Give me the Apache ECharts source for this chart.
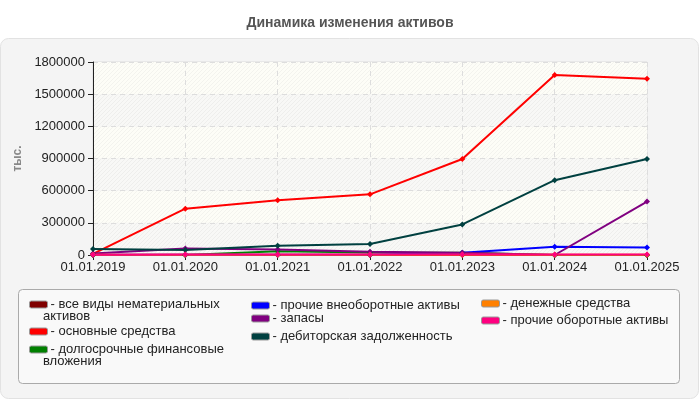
<!DOCTYPE html>
<html lang="ru">
<head>
  <meta charset="UTF-8">
  <title>Динамика изменения активов</title>
  <script src="https://cdn.jsdelivr.net/npm/echarts@6/dist/echarts.min.js"></script>
  <style>
    html, body { margin: 0; padding: 0; background: #fff; }
    #chart { width: 700px; height: 400px; }
  </style>
</head>
<body>
  <div id="chart"></div>
<script>
  // данные
  let dates = ['01.01.2019', '01.01.2020', '01.01.2021', '01.01.2022', '01.01.2023', '01.01.2024', '01.01.2025'];

  let nematerialnye = [1000, 1000, 1000, 1000, 1000, 1000, 1000];
  let osnovnye = [10000, 432000, 510000, 566000, 895000, 1678000, 1644000];
  let dolgosrochnye = [0, 0, 34000, 24000, 20000, 0, 0];
  let prochieVneob = [3000, 3000, 3000, 3000, 20000, 78000, 70000];
  let zapasy = [15000, 60000, 52000, 31000, 22000, 0, 498000];
  let debitorskaya = [56000, 46000, 87000, 103000, 285000, 698000, 895000];
  let denezhnye = [2000, 2000, 2000, 2000, 2000, 2000, 2000];
  let prochieOb = [3000, 4000, 5000, 5000, 4000, 4000, 4000];

  let seriesNames = [
    'все виды нематериальных активов',
    'основные средства',
    'долгосрочные финансовые вложения',
    'прочие внеоборотные активы',
    'запасы',
    'дебиторская задолженность',
    'денежные средства',
    'прочие оборотные активы'
  ];
  let seriesData = [nematerialnye, osnovnye, dolgosrochnye, prochieVneob, zapasy, debitorskaya, denezhnye, prochieOb];
  let colors = ['#800000', '#ff0000', '#008000', '#0000ff', '#800080', '#004040', '#ff8000', '#ff0080'];

  // подписи в легенде (первая строка) и расположение
  let legendText = [
    '- все виды нематериальных',
    '- основные средства',
    '- долгосрочные финансовые',
    '- прочие внеоборотные активы',
    '- запасы',
    '- дебиторская задолженность',
    '- денежные средства',
    '- прочие оборотные активы'
  ];
  let legendPos = [[29, 298], [29, 325], [29, 343], [251, 299], [251, 312], [251, 330], [481, 297], [481, 314]];

  // фон области графика со штриховкой
  function hatch(base, line) {
    let c = document.createElement('canvas');
    c.width = 4; c.height = 4;
    let ctx = c.getContext('2d');
    ctx.fillStyle = base;
    ctx.fillRect(0, 0, 4, 4);
    ctx.fillStyle = line;
    for (let k = 0; k < 4; k++) ctx.fillRect(3 - k, k, 1, 1);
    return { image: c, repeat: 'repeat' };
  }

  let myChart = echarts.init(document.getElementById('chart'));

  let legends = seriesNames.map(function (name, i) {
    return {
      data: [name],
      left: legendPos[i][0],
      top: legendPos[i][1],
      padding: 0,
      itemWidth: 18,
      itemHeight: 7,
      icon: 'roundRect',
      selectedMode: false,
      itemStyle: { borderColor: '#999', borderWidth: 1 },
      textStyle: { fontFamily: 'Liberation Sans, Arial', fontSize: 13, color: '#222', padding: [0, 0, 0, -2] },
      formatter: function () { return legendText[i]; }
    };
  });

  myChart.setOption({
    animation: false,
    title: {
      text: 'Динамика изменения активов',
      left: 'center',
      top: 11,
      textStyle: { fontFamily: 'Liberation Sans, Arial', fontSize: 14, fontWeight: 'bold', color: '#555' }
    },
    graphic: [
      {
        type: 'rect', z: -10,
        shape: { x: 0.5, y: 38.5, width: 698, height: 360, r: 8 },
        style: { fill: '#f4f4f4', stroke: '#e2e2e2', lineWidth: 1 }
      },
      {
        type: 'rect', z: -9,
        shape: { x: 18.5, y: 289.5, width: 661, height: 94, r: 4 },
        style: { fill: '#f9f9f9', stroke: '#aaa', lineWidth: 1 }
      },
      {
        type: 'text', left: 43, top: 310,
        style: { text: 'активов', font: '13px Liberation Sans, Arial', fill: '#222' }
      },
      {
        type: 'text', left: 43, top: 355,
        style: { text: 'вложения', font: '13px Liberation Sans, Arial', fill: '#222' }
      }
    ],
    legend: legends,
    grid: {
      left: 93,
      right: 53,
      top: 62,
      bottom: 145,
      show: true,
      borderColor: '#ddd',
      borderWidth: 1,
      backgroundColor: 'transparent'
    },
    xAxis: {
      type: 'category',
      data: dates,
      boundaryGap: false,
      axisLine: { lineStyle: { color: '#222', width: 1 } },
      axisTick: { alignWithLabel: true, length: 5, lineStyle: { color: '#222' } },
      axisLabel: { fontFamily: 'Liberation Sans, Arial', fontSize: 13, color: '#222', margin: 6, interval: 0 },
      splitLine: { show: true, lineStyle: { color: '#ddd', type: [5, 4] } }
    },
    yAxis: {
      type: 'value',
      min: 0,
      max: 1800000,
      interval: 300000,
      name: 'тыс.',
      nameLocation: 'middle',
      nameGap: 68,
      nameTextStyle: { fontFamily: 'Liberation Sans, Arial', fontSize: 12, fontWeight: 'bold', color: '#888' },
      axisLine: { show: true, lineStyle: { color: '#222', width: 1 } },
      axisTick: { show: true, length: 5, lineStyle: { color: '#222' } },
      axisLabel: {
        fontFamily: 'Liberation Sans, Arial', fontSize: 13, color: '#222', margin: 8,
        formatter: function (v) { return String(v); }
      },
      splitLine: { show: true, lineStyle: { color: '#ddd', type: [5, 4] } },
      splitArea: {
        show: true,
        areaStyle: { color: [hatch('#f8f8f6', '#eeeeec'), hatch('#fdfdf7', '#f3f3ee')] }
      }
    },
    series: seriesNames.map(function (name, i) {
      return {
        name: name,
        type: 'line',
        data: seriesData[i],
        color: colors[i],
        symbol: 'diamond',
        symbolSize: 6,
        showSymbol: true,
        lineStyle: { width: 2, color: colors[i] },
        itemStyle: { color: colors[i] }
      };
    })
  });
</script>
</body>
</html>
